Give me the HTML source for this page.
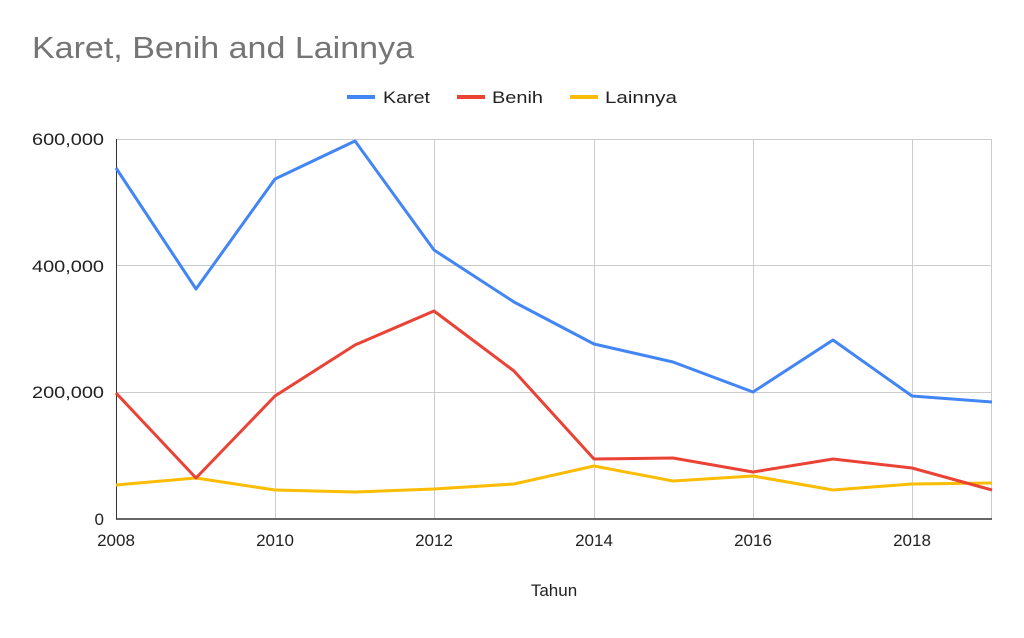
<!DOCTYPE html>
<html><head><style>body{margin:0;background:#fff}</style></head><body>
<svg width="1024" height="633" xmlns="http://www.w3.org/2000/svg" font-family="Liberation Sans, Arial, sans-serif">
<rect width="1024" height="633" fill="#fff"/>
<text x="32" y="58" font-size="31" fill="#757575" textLength="382" lengthAdjust="spacingAndGlyphs">Karet, Benih and Lainnya</text>
<line x1="347" y1="97" x2="375" y2="97" stroke="#4285f4" stroke-width="4"/>
<text x="383" y="103" font-size="17" fill="#222" textLength="47" lengthAdjust="spacingAndGlyphs">Karet</text>
<line x1="457" y1="97" x2="485" y2="97" stroke="#ea4335" stroke-width="4"/>
<text x="492" y="103" font-size="17" fill="#222" textLength="51" lengthAdjust="spacingAndGlyphs">Benih</text>
<line x1="570" y1="97" x2="598" y2="97" stroke="#fbbc04" stroke-width="4"/>
<text x="605" y="103" font-size="17" fill="#222" textLength="72" lengthAdjust="spacingAndGlyphs">Lainnya</text>
<g stroke="#cccccc" stroke-width="1">
<line x1="116" y1="139.5" x2="992" y2="139.5"/>
<line x1="116" y1="265.5" x2="992" y2="265.5"/>
<line x1="116" y1="392.5" x2="992" y2="392.5"/>
<line x1="275.5" y1="139" x2="275.5" y2="519"/>
<line x1="434.5" y1="139" x2="434.5" y2="519"/>
<line x1="594.5" y1="139" x2="594.5" y2="519"/>
<line x1="753.5" y1="139" x2="753.5" y2="519"/>
<line x1="912.5" y1="139" x2="912.5" y2="519"/>
<line x1="991.5" y1="139" x2="991.5" y2="519"/>
</g>
<line x1="116" y1="519" x2="992" y2="519" stroke="#333" stroke-width="1.5"/>
<line x1="116.5" y1="139" x2="116.5" y2="519" stroke="#333" stroke-width="1"/>
<g font-size="17" fill="#222" text-anchor="end">
<text x="104" y="145" textLength="72" lengthAdjust="spacingAndGlyphs">600,000</text>
<text x="104" y="272" textLength="72" lengthAdjust="spacingAndGlyphs">400,000</text>
<text x="104" y="398" textLength="72" lengthAdjust="spacingAndGlyphs">200,000</text>
<text x="104" y="525">0</text>
</g>
<g font-size="17" fill="#222" text-anchor="middle">
<text x="116" y="546">2008</text>
<text x="275" y="546">2010</text>
<text x="434" y="546">2012</text>
<text x="594" y="546">2014</text>
<text x="753" y="546">2016</text>
<text x="912" y="546">2018</text>
<text x="554" y="596">Tahun</text>
</g>
<g fill="none" stroke-width="3" stroke-linejoin="round">
<polyline stroke="#fbbc04" points="116,485 196,478 275,490 355,492 434,489 514,484 594,466 673,481 753,476 833,490 912,484 992,483"/>
<polyline stroke="#ea4335" points="116,393 196,478 275,396 355,345 434,311 514,371 594,459 673,458 753,472 833,459 912,468 992,490"/>
<polyline stroke="#4285f4" points="116,168 196,289 275,179 355,141 434,250 514,302 594,344 673,362 753,392 833,340 912,396 992,402"/>
</g>
</svg>
</body></html>
